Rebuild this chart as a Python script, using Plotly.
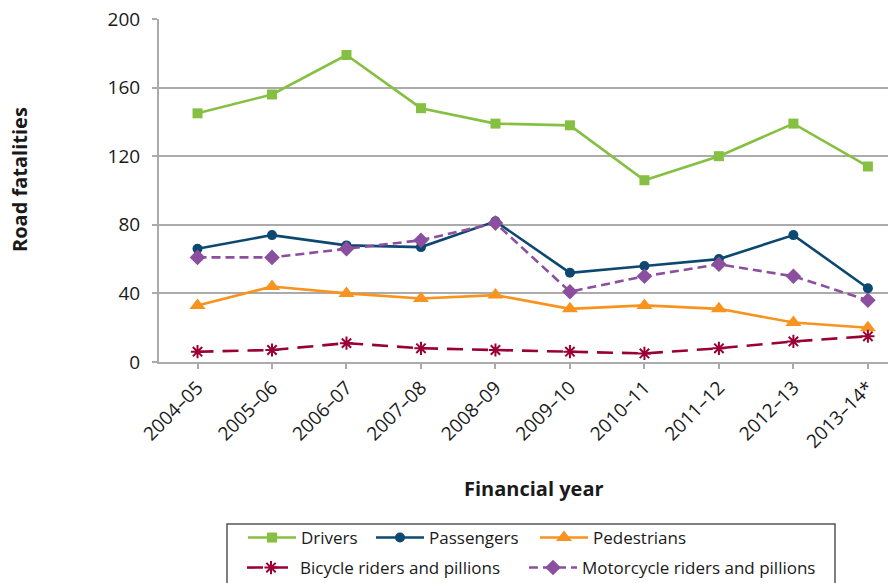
import plotly.graph_objects as go

# Financial years on the category axis
years = ["2004–05", "2005–06", "2006–07", "2007–08", "2008–09",
         "2009–10", "2010–11", "2011–12", "2012–13", "2013–14*"]

# Road fatalities by road user type
drivers = [145, 156, 179, 148, 139, 138, 106, 120, 139, 114]
passengers = [66, 74, 68, 67, 82, 52, 56, 60, 74, 43]
pedestrians = [33, 44, 40, 37, 39, 31, 33, 31, 23, 20]
bicycle = [6, 7, 11, 8, 7, 6, 5, 8, 12, 15]
motorcycle = [61, 61, 66, 71, 81, 41, 50, 57, 50, 36]

y_ticks = [0, 40, 80, 120, 160, 200]

W, H = 888, 583
ML, MR, MT, MB = 159, 0, 19, 221
PW, PH = W - ML - MR, H - MT - MB

FONT = "Open Sans"
TXT = "#1a1a1a"
GRID = "#ababab"


def px_x(px):
    return (px - ML) / PW


def px_y(py):
    return (H - MB - py) / PH


series = [
    ("Drivers", drivers, "#86c042", "solid", "square", 10, None, "legend"),
    ("Passengers", passengers, "#0c4870", "solid", "circle", 10, None, "legend2"),
    ("Pedestrians", pedestrians, "#f7931e", "solid", "triangle-up", 14, None, "legend3"),
    ("Bicycle riders and pillions", bicycle, "#9a0036", "16px,9px", "asterisk-open", 11, 2, "legend4"),
    ("Motorcycle riders and pillions", motorcycle, "#8c4f9f", "9px,5px", "diamond", 12, None, "legend5"),
]

fig = go.Figure()
for name, vals, color, dash, symbol, size, lw, leg in series:
    marker = dict(symbol=symbol, size=size, color=color)
    if lw:
        marker["line"] = dict(color=color, width=lw)
    fig.add_trace(go.Scatter(
        x=years, y=vals, name=name, mode="lines+markers",
        line=dict(color=color, width=2.6, dash=dash),
        marker=marker, legend=leg,
    ))

# one legend per entry so the two rows sit like the boxed key below the chart
legend_pos = {
    "legend": (243, 538),
    "legend2": (371, 538),
    "legend3": (535, 538),
    "legend4": (242, 568),
    "legend5": (524, 568),
}
legend_common = dict(orientation="h", xanchor="left", yanchor="middle",
                     bgcolor="rgba(0,0,0,0)", borderwidth=0, itemwidth=48,
                     font=dict(family=FONT, size=17, color=TXT))
layout_legends = {}
for key, (lx, ly) in legend_pos.items():
    layout_legends[key] = dict(x=px_x(lx), y=px_y(ly), **legend_common)

fig.update_layout(
    width=W, height=H,
    margin=dict(l=ML, r=MR, t=MT, b=MB, autoexpand=False),
    paper_bgcolor="white", plot_bgcolor="white",
    font=dict(family=FONT, color=TXT),
    showlegend=True,
    **layout_legends,
    xaxis=dict(
        type="category", range=[-0.517, 9.27],
        showgrid=False, zeroline=False,
        showline=True, linecolor=GRID, linewidth=2,
        ticks="outside", ticklen=5, tickwidth=1.5, tickcolor=GRID,
        tickangle=-45, tickfont=dict(family=FONT, size=19, color=TXT),
    ),
    yaxis=dict(
        range=[0, 200], tickvals=y_ticks,
        showgrid=True, gridcolor=GRID, gridwidth=2,
        zeroline=False,
        showline=True, linecolor=GRID, linewidth=2,
        ticks="outside", ticklen=5, tickwidth=1.5, tickcolor=GRID,
        ticklabelstandoff=8,
        tickfont=dict(family=FONT, size=19, color=TXT),
    ),
    annotations=[
        dict(text="<b>Financial year</b>", xref="paper", yref="paper",
             x=px_x(534), y=px_y(488), xanchor="center", yanchor="middle",
             showarrow=False, font=dict(family=FONT, size=20, color=TXT)),
        dict(text="<b>Road fatalities</b>", xref="paper", yref="paper",
             x=px_x(19), y=px_y(180), xanchor="center", yanchor="middle",
             textangle=-90, showarrow=False,
             font=dict(family=FONT, size=20, color=TXT)),
    ],
    shapes=[
        dict(type="rect", xref="paper", yref="paper",
             x0=px_x(227), x1=px_x(835), y0=px_y(600), y1=px_y(524),
             line=dict(color="#555555", width=1.5), fillcolor="rgba(0,0,0,0)"),
    ],
)

fig.write_html("out.html")
